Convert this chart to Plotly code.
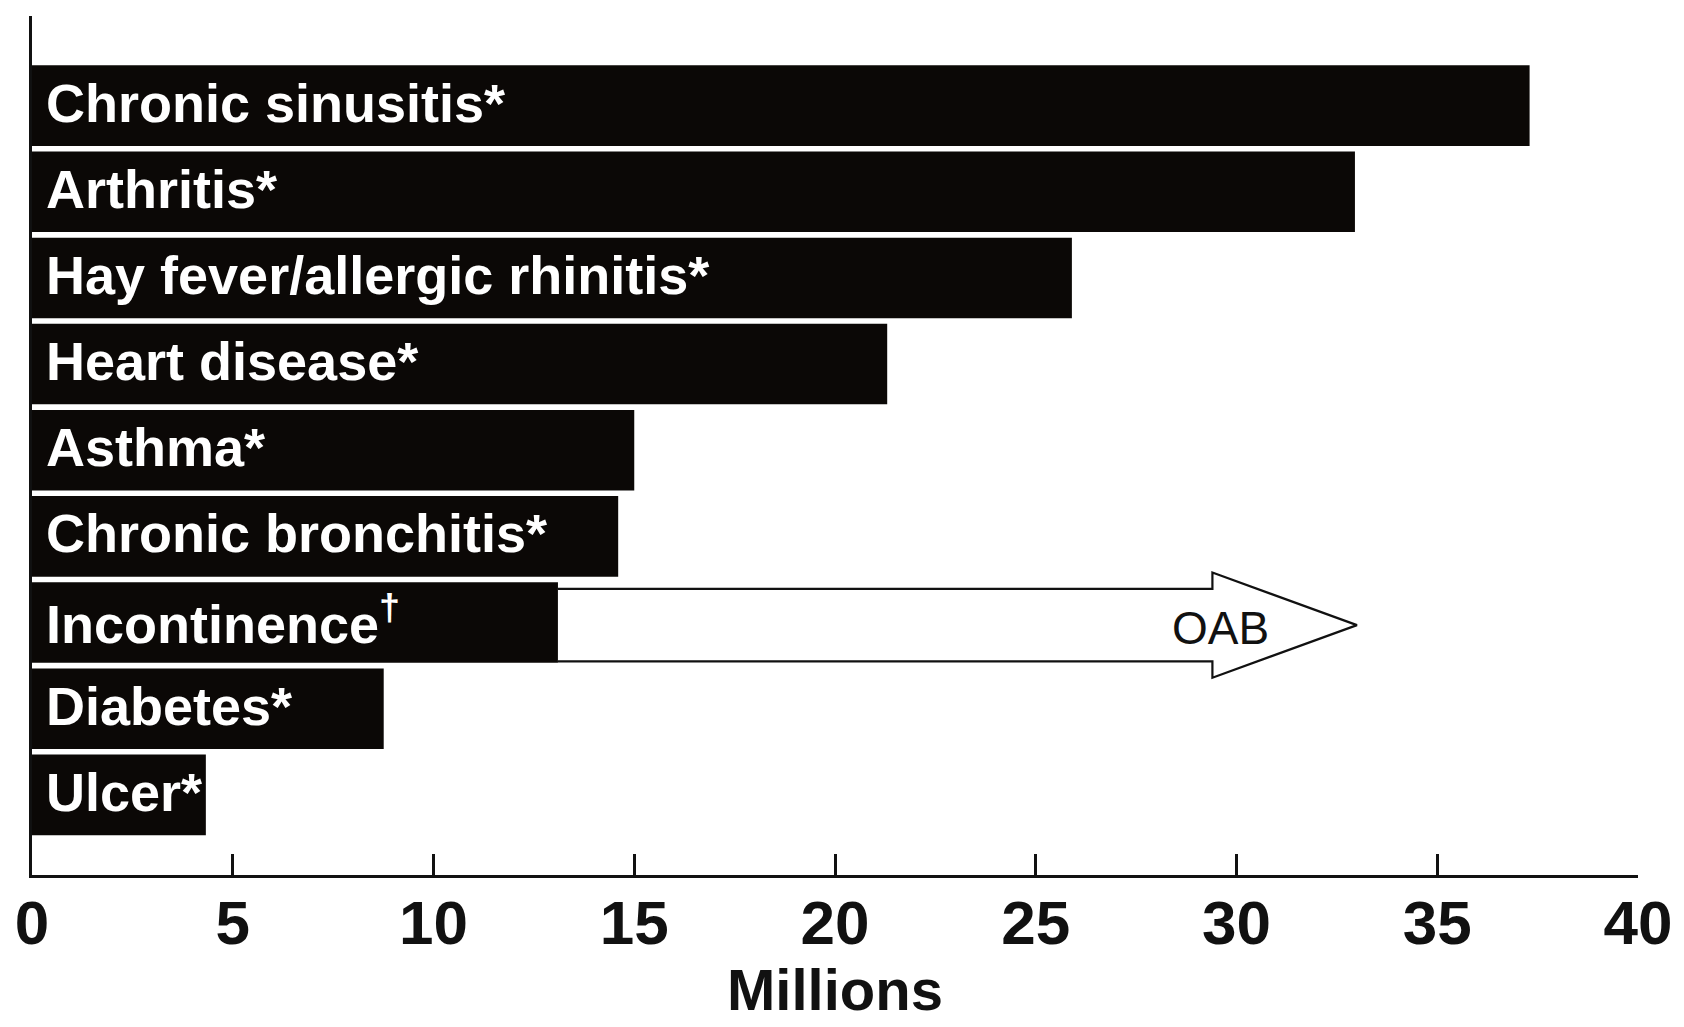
import plotly.graph_objects as go

# Conditions, top to bottom, with prevalence in millions
conditions = [
    "Chronic sinusitis*",
    "Arthritis*",
    "Hay fever/allergic rhinitis*",
    "Heart disease*",
    "Asthma*",
    "Chronic bronchitis*",
    "Incontinence<sup>†</sup>",
    "Diabetes*",
    "Ulcer*",
]
millions = [37.3, 32.95, 25.9, 21.3, 15.0, 14.6, 13.1, 8.76, 4.33]

# Overactive bladder total, drawn as an arrow extending the incontinence bar
oab_label = "OAB"
oab_total = 33.0
oab_source = "Incontinence<sup>†</sup>"

x_ticks = [0, 5, 10, 15, 20, 25, 30, 35, 40]
x_title = "Millions"

FONT = "Liberation Sans, Arial, Helvetica, sans-serif"
BAR_COLOR = "#0b0806"

n = len(conditions)
# numeric positions: first condition at the top
ypos = [n - 1 - i for i in range(n)]

fig = go.Figure()

fig.add_trace(go.Bar(
    x=millions,
    y=ypos,
    orientation="h",
    width=0.935,
    marker=dict(color=BAR_COLOR, line=dict(width=0)),
    hoverinfo="skip",
    showlegend=False,
))

# Arrow outline from the incontinence bar end to the OAB total
i_src = conditions.index(oab_source)
yc = ypos[i_src] - 0.03
x0 = millions[i_src]
head_len = 3.6
shaft_half = 0.42
head_half = 0.61
xb = oab_total - head_len
arrow_x = [x0, xb, xb, oab_total, xb, xb, x0]
arrow_y = [yc + shaft_half, yc + shaft_half, yc + head_half, yc,
           yc - head_half, yc - shaft_half, yc - shaft_half]
fig.add_trace(go.Scatter(
    x=arrow_x,
    y=arrow_y,
    mode="lines",
    fill="toself",
    fillcolor="white",
    line=dict(color="#111111", width=2.2),
    hoverinfo="skip",
    showlegend=False,
))

annotations = []
for name, y in zip(conditions, ypos):
    annotations.append(dict(
        x=0, y=y, xref="x", yref="y",
        text="<b>" + name + "</b>",
        showarrow=False,
        xanchor="left", yanchor="middle",
        xshift=12, yshift=3,
        font=dict(family=FONT, size=54, color="white"),
    ))

annotations.append(dict(
    x=oab_total - 3.4, y=yc, xref="x", yref="y",
    text=oab_label,
    showarrow=False,
    xanchor="center", yanchor="middle",
    yshift=-3,
    font=dict(family=FONT, size=46, color="#111111"),
))

annotations.append(dict(
    x=0.5, y=0, xref="paper", yref="paper",
    text="<b>" + x_title + "</b>",
    showarrow=False,
    xanchor="center", yanchor="middle",
    yshift=-114,
    font=dict(family=FONT, size=58, color="#111111"),
))

fig.update_layout(
    width=1684,
    height=1027,
    margin=dict(l=32, r=43, t=16, b=152),
    paper_bgcolor="white",
    plot_bgcolor="white",
    annotations=annotations,
    bargap=0.06,
)

fig.update_xaxes(
    range=[0, 40],
    tickvals=x_ticks,
    ticktext=["<b>%d</b>" % t for t in x_ticks],
    ticks="inside",
    ticklen=21,
    tickwidth=2.5,
    tickcolor="#111111",
    showline=True,
    linewidth=3,
    linecolor="#111111",
    showgrid=False,
    zeroline=False,
    ticklabelstandoff=-8,
    tickfont=dict(family=FONT, size=62, color="#111111"),
)

fig.update_yaxes(
    range=[-0.93, 9.04],
    showline=True,
    linewidth=3,
    linecolor="#111111",
    showgrid=False,
    zeroline=False,
    showticklabels=False,
    ticks="",
)

fig.write_html("out.html")
